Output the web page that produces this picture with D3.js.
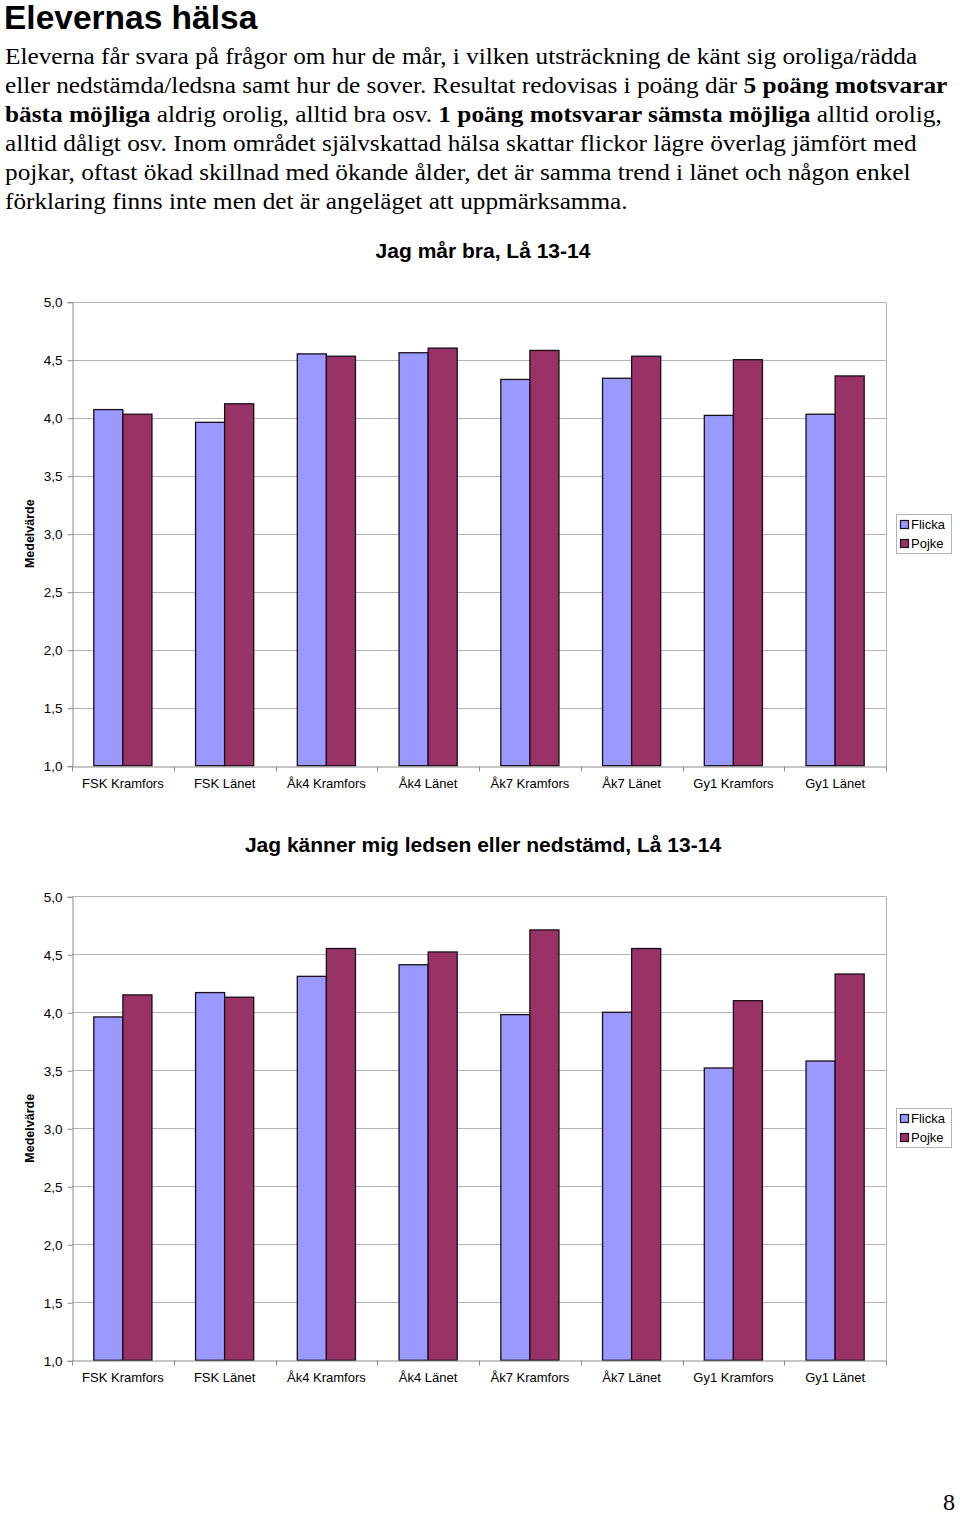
<!DOCTYPE html>
<html>
<head>
<meta charset="utf-8">
<script src="https://cdn.jsdelivr.net/npm/d3@7"></script>
<style>
  html, body { margin: 0; padding: 0; background: #fff; }
  svg { display: block; }
</style>
</head>
<body>
<svg id="page" width="960" height="1519"></svg>
<script>
// ---------- Data ----------
const categories = ["FSK Kramfors", "FSK Länet", "Åk4 Kramfors", "Åk4 Länet", "Åk7 Kramfors", "Åk7 Länet", "Gy1 Kramfors", "Gy1 Länet"];
const seriesNames = ["Flicka", "Pojke"];
const chart1Title = "Jag mår bra, Lå 13-14";
const chart1Flicka = [4.07, 3.96, 4.55, 4.56, 4.33, 4.34, 4.02, 4.03];
const chart1Pojke  = [4.03, 4.12, 4.53, 4.60, 4.58, 4.53, 4.50, 4.36];
const chart2Title = "Jag känner mig ledsen eller nedstämd, Lå 13-14";
const chart2Flicka = [3.96, 4.17, 4.31, 4.41, 3.98, 4.00, 3.52, 3.58];
const chart2Pojke  = [4.15, 4.13, 4.55, 4.52, 4.71, 4.55, 4.10, 4.33];
const yTicks = [1.0, 1.5, 2.0, 2.5, 3.0, 3.5, 4.0, 4.5, 5.0];
const yAxisTitle = "Medelvärde";
const heading = "Elevernas hälsa";
const bodyLines = [
  [["Eleverna får svara på frågor om hur de mår, i vilken utsträckning de känt sig oroliga/rädda", false]],
  [["eller nedstämda/ledsna samt hur de sover. Resultat redovisas i poäng där ", false], ["5 poäng motsvarar", true]],
  [["bästa möjliga", true], [" aldrig orolig, alltid bra osv. ", false], ["1 poäng motsvarar sämsta möjliga", true], [" alltid orolig,", false]],
  [["alltid dåligt osv. Inom området självskattad hälsa skattar flickor lägre överlag jämfört med", false]],
  [["pojkar, oftast ökad skillnad med ökande ålder, det är samma trend i länet och någon enkel", false]],
  [["förklaring finns inte men det är angeläget att uppmärksamma.", false]]
];
const pageNumber = "8";
const colors = ["#9999ff", "#993366"];

// ---------- Page text ----------
const svg = d3.select("#page");
svg.append("text").attr("x", 4).attr("y", 29)
  .style("font-family", "'Liberation Sans', Arial, sans-serif")
  .style("font-weight", "bold").style("font-size", "33.5px").attr("fill", "#000")
  .text(heading);

// right edge of each body line in the reference layout
const lineEnds = [918, 948, 942, 917, 911, 628];
const body = svg.append("g")
  .style("font-family", "'Liberation Serif', 'Times New Roman', serif")
  .style("font-size", "24px").attr("fill", "#000");
bodyLines.forEach((line, i) => {
  const t = body.append("text").attr("x", 0).attr("y", 0);
  line.forEach(([s, b]) => {
    t.append("tspan").style("font-weight", b ? "bold" : "normal").text(s);
  });
  const w = t.node().getComputedTextLength();
  const sx = (lineEnds[i] - 5) / w;
  t.attr("transform", `translate(5,${64 + i * 29}) scale(${sx},1)`);
});

svg.append("text").attr("x", 955).attr("y", 1510).attr("text-anchor", "end")
  .style("font-family", "'Liberation Serif', 'Times New Roman', serif")
  .style("font-size", "24px").text(pageNumber);

// ---------- Chart drawer ----------
function drawChart(opt) {
  const g = svg.append("g");
  const x0 = 72, x1 = 886;
  const y = d3.scaleLinear().domain([1, 5]).range([opt.bottom, opt.top]);
  const x = d3.scaleBand().domain(categories).range([x0, x1]).paddingInner(0.4286).paddingOuter(0.2143);
  const xs = d3.scaleBand().domain(seriesNames).range([0, x.bandwidth()]);

  // title
  g.append("text").attr("x", 483).attr("y", opt.titleY).attr("text-anchor", "middle")
    .style("font-family", "'Liberation Sans', Arial, sans-serif")
    .style("font-weight", "bold").style("font-size", "21px").text(opt.title);

  // gridlines
  g.append("g").selectAll("line").data(yTicks.filter(d => d > 1)).join("line")
    .attr("x1", x0).attr("x2", x1)
    .attr("y1", d => Math.round(y(d)) + 0.5).attr("y2", d => Math.round(y(d)) + 0.5)
    .attr("stroke", "#b4b4b4").attr("stroke-width", 1);
  // right border
  g.append("line").attr("x1", x1 + 0.5).attr("x2", x1 + 0.5)
    .attr("y1", Math.round(y(5)) + 0.5).attr("y2", Math.round(y(1)) + 0.5)
    .attr("stroke", "#b4b4b4");

  // bars
  const data = categories.map((c, i) => ({ c, vals: [opt.flicka[i], opt.pojke[i]] }));
  const grp = g.append("g").selectAll("g").data(data).join("g")
    .attr("transform", d => `translate(${x(d.c)},0)`);
  grp.selectAll("rect").data(d => d.vals.map((v, k) => ({ v, s: seriesNames[k], k }))).join("rect")
    .attr("x", d => xs(d.s)).attr("width", xs.bandwidth())
    .attr("y", d => y(d.v)).attr("height", d => y(1) - y(d.v))
    .attr("fill", d => colors[d.k]).attr("stroke", "#1a0d1a").attr("stroke-width", 1.3);

  // y axis
  const yAxis = d3.axisLeft(y).tickValues(yTicks).tickSize(5).tickPadding(5)
    .tickFormat(d => d3.format(".1f")(d).replace(".", ","));
  const ya = g.append("g").attr("transform", `translate(${x0 + 0.5},0.5)`).call(yAxis);
  ya.select(".domain").attr("stroke", "#8c8c8c");
  ya.selectAll(".tick line").attr("stroke", "#8c8c8c");
  ya.selectAll("text").style("font-family", "'Liberation Sans', Arial, sans-serif")
    .style("font-size", "13.5px").attr("fill", "#000");

  // x axis
  const xAxis = d3.axisBottom(x).tickSize(0).tickPadding(12);
  const xa = g.append("g").attr("transform", `translate(0,${Math.round(y(1)) + 0.5})`).call(xAxis);
  xa.select(".domain").attr("stroke", "#8c8c8c");
  xa.selectAll("text").style("font-family", "'Liberation Sans', Arial, sans-serif")
    .style("font-size", "13px").attr("fill", "#000");
  // category boundary tick marks
  const bounds = d3.range(categories.length + 1).map(i => x0 + i * (x1 - x0) / categories.length);
  xa.append("g").selectAll("line").data(bounds).join("line")
    .attr("x1", d => Math.round(d) + 0.5).attr("x2", d => Math.round(d) + 0.5)
    .attr("y1", 0).attr("y2", 5).attr("stroke", "#8c8c8c");

  // y axis title
  const midY = (y(1) + y(5)) / 2;
  g.append("text").attr("transform", `translate(34,${midY}) rotate(-90)`)
    .attr("text-anchor", "middle")
    .style("font-family", "'Liberation Sans', Arial, sans-serif")
    .style("font-weight", "bold").style("font-size", "12.5px").text(yAxisTitle);

  // legend
  const lg = g.append("g").attr("transform", `translate(896,${Math.round(midY) - 20})`);
  lg.append("rect").attr("x", 0.5).attr("y", 0.5).attr("width", 55).attr("height", 39)
    .attr("fill", "#fff").attr("stroke", "#b4b4b4");
  seriesNames.forEach((s, k) => {
    lg.append("rect").attr("x", 4.5).attr("y", 6.5 + k * 19).attr("width", 8).attr("height", 8)
      .attr("fill", colors[k]).attr("stroke", "#1a0d1a").attr("stroke-width", 1.2);
    lg.append("text").attr("x", 15).attr("y", 15 + k * 19)
      .style("font-family", "'Liberation Sans', Arial, sans-serif")
      .style("font-size", "13px").text(s);
  });
}

drawChart({ title: chart1Title, titleY: 258, top: 301.7, bottom: 765.7, flicka: chart1Flicka, pojke: chart1Pojke });
drawChart({ title: chart2Title, titleY: 852, top: 896.3, bottom: 1360.3, flicka: chart2Flicka, pojke: chart2Pojke });
</script>
</body>
</html>
